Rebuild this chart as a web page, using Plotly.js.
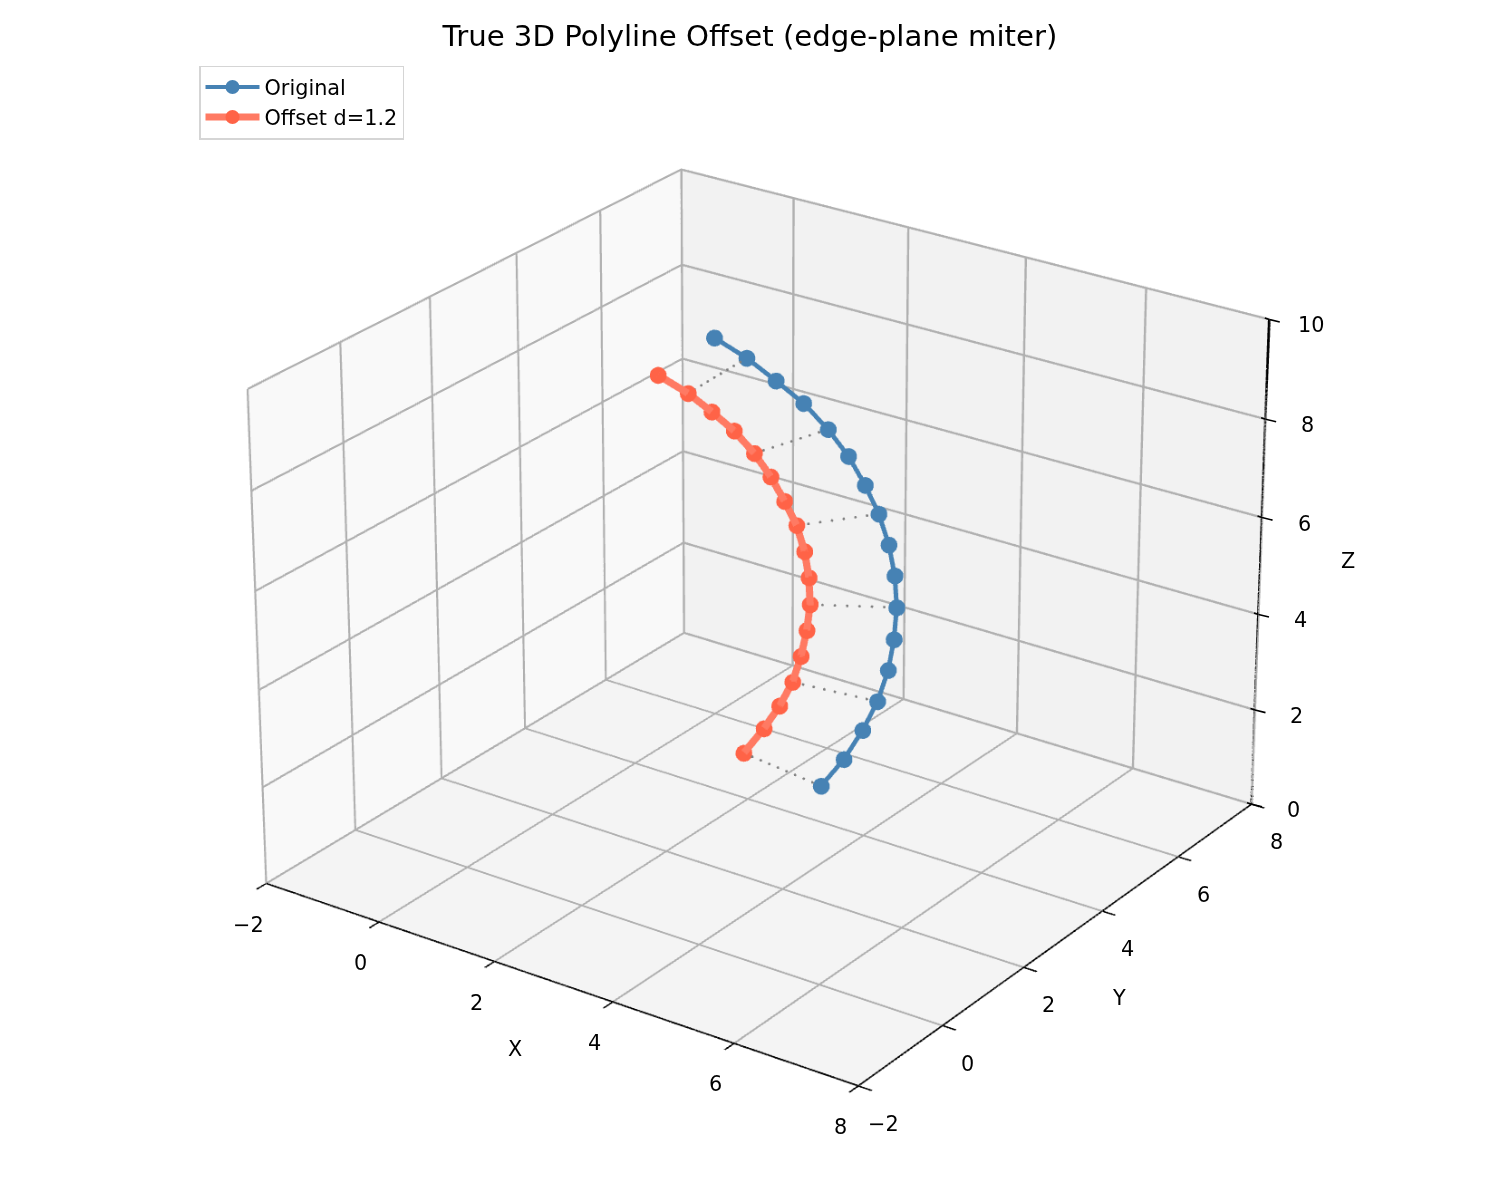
<!DOCTYPE html>
<html><head><meta charset="utf-8">
<script src="https://cdn.plot.ly/plotly-3.0.1.min.js"></script>
<style>html,body{margin:0;padding:0;background:#fff;width:1500px;height:1200px;overflow:hidden}
#w{position:absolute;left:0;top:0;width:1500px;height:1200px;overflow:hidden}#p{position:absolute}</style></head>
<body><div id="w"><div id="p"></div></div>
<script>
const origX=[3.47,3.68,3.80,3.88,3.87,3.81,3.69,3.52,3.32,3.07,2.82,2.53,2.24,1.92,1.64,1.34,1.06];
const origY=[3.71,3.97,4.26,4.51,4.79,5.02,5.26,5.46,5.60,5.71,5.73,5.73,5.64,5.49,5.21,4.92,4.53];
const offX=[1.97,2.19,2.39,2.54,2.60,2.63,2.63,2.56,2.47,2.34,2.20,2.04,1.87,1.68,1.54,1.40,1.20];
const offY=[3.94,4.13,4.23,4.34,4.46,4.56,4.64,4.71,4.73,4.72,4.62,4.51,4.35,4.13,3.79,3.42,2.99];
const zVals=[1,1.5,2,2.5,3,3.5,4,4.5,5,5.5,6,6.5,7,7.5,8,8.5,9];
const linkIdx=[0,3,6,9,12,15];
const xyTicks=[-2,0,2,4,6,8];
const zTicks=[0,2,4,6,8,10];
const W=5220,H=5220,CX=765,CY=602.5,D=8.75;
const L=CX-W/2,T=CY-H/2;
const pd=document.getElementById('p');pd.style.left=L+'px';pd.style.top=T+'px';pd.style.width=W+'px';pd.style.height=H+'px';
const fx=px=>(px-L)/W, fy=py=>1-(py-T)/H;
const font='"DejaVu Sans", sans-serif';
const lab=v=>String(v).replace('-','\u2212');
// dotted connectors: round dots spaced along each original-to-offset link
const dotStep=0.17;
const lx=[],ly=[],lz=[];
linkIdx.forEach(i=>{
  const dx=offX[i]-origX[i],dy=offY[i]-origY[i],n=Math.round(Math.hypot(dx,dy)/dotStep);
  for(let k=0;k<=n;k++){lx.push(origX[i]+dx*k/n);ly.push(origY[i]+dy*k/n);lz.push(zVals[i]);}
});
const traces=[
 {type:'scatter3d',mode:'markers',x:lx,y:ly,z:lz,showlegend:false,hoverinfo:'skip',marker:{color:'#808080',size:0.85,line:{width:0}}},
 {type:'scatter3d',mode:'lines+markers',name:'Original',x:origX,y:origY,z:zVals,showlegend:false,line:{color:'#4682b4',width:5},marker:{color:'#4682b4',size:5.4,line:{width:0}}},
 {type:'scatter3d',mode:'lines+markers',name:'Offset d=1.2',x:offX,y:offY,z:zVals,showlegend:false,line:{color:'#ff7a63',width:8},marker:{color:'#ff6347',size:5.4,line:{width:0}}},
 {type:'scatter3d',mode:'lines+markers',name:'Original',x:[null],y:[null],z:[null],line:{color:'#4682b4',width:4},marker:{color:'#4682b4',size:14,line:{width:0}}},
 {type:'scatter3d',mode:'lines+markers',name:'Offset d=1.2',x:[null],y:[null],z:[null],line:{color:'#ff7a63',width:7},marker:{color:'#ff6347',size:14,line:{width:0}}},
 {type:'scatter3d',mode:'lines',x:[8,8],y:[8,8],z:[0,10],showlegend:false,hoverinfo:'skip',line:{color:'#000',width:3}}
];
function ax(range,ticks,bg,isZ){return {range:range,autorange:false,tickmode:'array',tickvals:ticks,showticklabels:false,
  title:{text:''},showbackground:true,backgroundcolor:bg,gridcolor:'#b0b0b0',gridwidth:2.5,zeroline:false,showspikes:false,
  showline:!isZ,linecolor:'#000',linewidth:2,ticks:isZ?'':'outside',ticklen:7,tickwidth:2,tickcolor:'#000'};}
const txt=(x,y,z,text,xs,ys)=>({x,y,z,text,showarrow:false,xshift:xs,yshift:ys,font:{family:font,size:20.8,color:'#000'}});
const tickArm=(v,a,b)=>({x:8,y:8,z:v,text:'&nbsp;',showarrow:true,arrowhead:0,arrowwidth:1.6,arrowcolor:'#000',ax:a,ay:b,standoff:0,startstandoff:0,font:{size:1}});
const ann=[];
xyTicks.forEach(v=>ann.push(txt(v,-2,0,lab(v),-18,-41)));
xyTicks.forEach(v=>ann.push(txt(8,v,0,lab(v),25,-38)));
zTicks.forEach(v=>ann.push(txt(8,8,v,lab(v),42,-6)));
zTicks.forEach(v=>ann.push(tickArm(v,12,3),tickArm(v,-6,-2)));
ann.push(txt(3,-2,0,'X',-38,-67),txt(8,3,0,'Y',56,-59),txt(8,8,5,'Z',88,5));
const layout={width:W,height:H,margin:{l:0,r:0,t:0,b:0},paper_bgcolor:'#fff',
 title:{text:'True 3D Polyline Offset (edge-plane miter)',font:{family:font,size:29.2,color:'#000'},x:fx(750),xanchor:'center',y:fy(35),yanchor:'middle'},
 legend:{x:fx(199),y:fy(65),xanchor:'left',yanchor:'top',itemwidth:54,bgcolor:'rgba(255,255,255,0.8)',bordercolor:'#d5d5d5',borderwidth:1.5,font:{family:font,size:20.8,color:'#000'}},
 scene:{domain:{x:[0,1],y:[0,1]},aspectmode:'manual',aspectratio:{x:1,y:1,z:0.75},
  camera:{projection:{type:'perspective'},up:{x:0,y:0,z:1},center:{x:0,y:0,z:0},eye:{x:0.52*D,y:-0.742*D,z:0.423*D}},
  xaxis:ax([-2,8],xyTicks,'#f9f9f9'),yaxis:ax([-2,8],xyTicks,'#f2f2f2'),zaxis:ax([0,10],zTicks,'#f4f4f4',true),
  annotations:ann}
};
Plotly.newPlot('p',traces,layout,{displayModeBar:false});
</script></body></html>
